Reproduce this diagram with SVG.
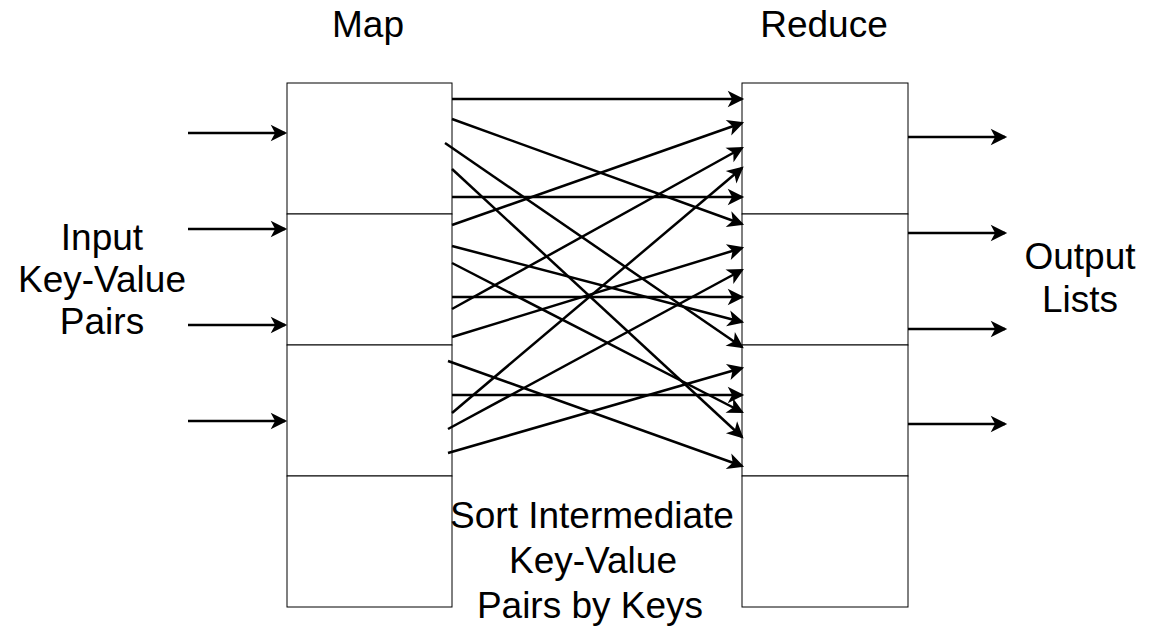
<svg xmlns="http://www.w3.org/2000/svg" width="1149" height="629" viewBox="0 0 1149 629">
  <style>
    .cell { fill: #ffffff; stroke: #000000; stroke-width: 1; }
    .label { font-family: "Liberation Sans", Arial, sans-serif; font-size: 37px; fill: #000000; text-anchor: middle; }
    .edge { fill: none; stroke: #000000; stroke-width: 2.5; marker-end: url(#arrow); }
  </style>
  <defs>
    <marker id="arrow" markerUnits="userSpaceOnUse" markerWidth="22" markerHeight="20" viewBox="-16 -9 20 18" refX="0" refY="0" orient="auto">
      <path d="M2,0 L-13,-7.5 L-9,0 L-13,7.5 Z" fill="#000000"/>
    </marker>
  </defs>

  <rect width="1149" height="629" fill="#ffffff"/>

  <!-- Map stage: four stacked cells -->
  <g id="map">
    <rect class="cell" x="287" y="83" width="165" height="131"/>
    <rect class="cell" x="287" y="214" width="165" height="131"/>
    <rect class="cell" x="287" y="345" width="165" height="131"/>
    <rect class="cell" x="287" y="476" width="165" height="131"/>
    <text class="label" x="368" y="37">Map</text>
  </g>

  <!-- Reduce stage: four stacked cells -->
  <g id="reduce">
    <rect class="cell" x="742" y="83" width="166" height="131"/>
    <rect class="cell" x="742" y="214" width="166" height="131"/>
    <rect class="cell" x="742" y="345" width="166" height="131"/>
    <rect class="cell" x="742" y="476" width="166" height="131"/>
    <text class="label" x="824" y="37">Reduce</text>
  </g>

  <g id="input-label">
    <text class="label" x="102" y="250">Input</text>
    <text class="label" x="102" y="292">Key-Value</text>
    <text class="label" x="102" y="334">Pairs</text>
  </g>

  <g id="output-label">
    <text class="label" x="1080" y="269">Output</text>
    <text class="label" x="1080" y="312">Lists</text>
  </g>

  <g id="sort-label">
    <text class="label" x="592" y="528">Sort Intermediate</text>
    <text class="label" x="593" y="573">Key-Value</text>
    <text class="label" x="590" y="618">Pairs by Keys</text>
  </g>

  <g id="connectors">
    <!-- inputs into map -->
    <line class="edge" x1="188" y1="133" x2="285" y2="133"/>
    <line class="edge" x1="188" y1="229" x2="285" y2="229"/>
    <line class="edge" x1="188" y1="325" x2="285" y2="325"/>
    <line class="edge" x1="188" y1="421" x2="285" y2="421"/>

    <!-- shuffle: map outputs to reduce inputs -->
    <line class="edge" x1="452" y1="99" x2="742" y2="99"/>
    <line class="edge" x1="452" y1="119" x2="742" y2="224"/>
    <line class="edge" x1="445" y1="143" x2="742" y2="347"/>
    <line class="edge" x1="452" y1="169" x2="742" y2="437"/>
    <line class="edge" x1="452" y1="197" x2="742" y2="197"/>
    <line class="edge" x1="452" y1="225" x2="742" y2="123"/>
    <line class="edge" x1="452" y1="246" x2="742" y2="322"/>
    <line class="edge" x1="452" y1="263" x2="742" y2="412"/>
    <line class="edge" x1="452" y1="297" x2="742" y2="297"/>
    <line class="edge" x1="452" y1="309" x2="742" y2="148"/>
    <line class="edge" x1="452" y1="337" x2="742" y2="248"/>
    <line class="edge" x1="448" y1="361" x2="742" y2="466"/>
    <line class="edge" x1="452" y1="395" x2="742" y2="395"/>
    <line class="edge" x1="452" y1="413" x2="742" y2="168"/>
    <line class="edge" x1="448" y1="429" x2="742" y2="270"/>
    <line class="edge" x1="448" y1="453" x2="742" y2="368"/>

    <!-- reduce outputs -->
    <line class="edge" x1="908" y1="137" x2="1005" y2="137"/>
    <line class="edge" x1="908" y1="233" x2="1005" y2="233"/>
    <line class="edge" x1="908" y1="329" x2="1005" y2="329"/>
    <line class="edge" x1="908" y1="424" x2="1005" y2="424"/>
  </g>
</svg>
